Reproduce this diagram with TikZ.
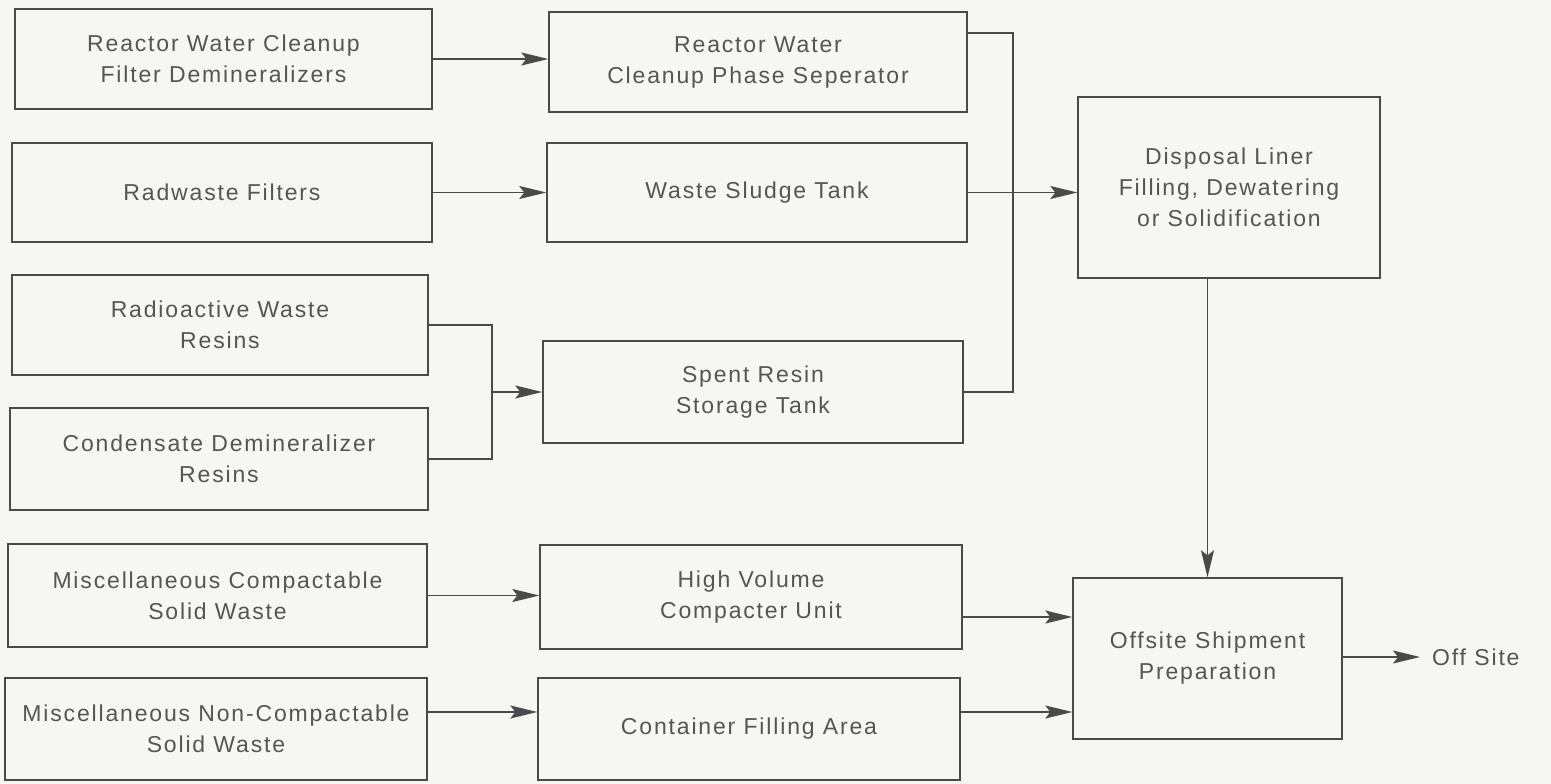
\documentclass[tikz,border=0pt]{standalone}
\usepackage{fontspec}
\setmainfont{Liberation Sans}[LetterSpace=8]
\usetikzlibrary{arrows.meta,calc}
\definecolor{paper}{HTML}{F6F6F3}
\definecolor{ink}{HTML}{4A4A4A}
\definecolor{txt}{HTML}{555555}
\begin{document}
\begin{tikzpicture}[x=1pt,y=-1pt,
  box/.style={draw=ink,line width=1.4pt,inner sep=0pt,align=center,text=txt,
    font=\fontsize{23}{31}\selectfont},
  arr/.style={draw=ink,line width=1.4pt,-{Stealth[length=27pt,width=13pt,inset=5pt]}},
  ln/.style={draw=ink,line width=1.4pt}]
\fill[paper] (0,0) rectangle (1551,784);
\useasboundingbox (0,0) rectangle (1551,784);
% left column
\node[box,minimum width=417pt,minimum height=100pt] (b1) at (223.5,59) {Reactor Water Cleanup\\Filter Demineralizers};
\node[box,minimum width=420pt,minimum height=99pt] (b2) at (222,192.5) {Radwaste Filters};
\node[box,minimum width=416pt,minimum height=100pt] (b3) at (220,325) {Radioactive Waste\\Resins};
\node[box,minimum width=418pt,minimum height=102pt] (b4) at (219,459) {Condensate Demineralizer\\Resins};
\node[box,minimum width=419pt,minimum height=103pt] (b5) at (217.5,595.5) {Miscellaneous Compactable\\Solid Waste};
\node[box,minimum width=422pt,minimum height=102pt] (b6) at (216,729) {Miscellaneous Non-Compactable\\Solid Waste};
% middle column
\node[box,minimum width=418pt,minimum height=100pt] (b7) at (758,62) {Reactor Water\\Cleanup Phase Seperator};
\node[box,minimum width=420pt,minimum height=99pt] (b8) at (757,192.5) {Waste Sludge Tank};
\node[box,minimum width=420pt,minimum height=102pt] (b9) at (753,392) {Spent Resin\\Storage Tank};
\node[box,minimum width=422pt,minimum height=104pt] (b10) at (751,597) {High Volume\\Compacter Unit};
\node[box,minimum width=422pt,minimum height=102pt] (b11) at (749,729) {Container Filling Area};
% right
\node[box,minimum width=302pt,minimum height=181pt] (b12) at (1229,187.5) {Disposal Liner\\Filling, Dewatering\\or Solidification};
\node[box,minimum width=269pt,minimum height=161pt] (b13) at (1207.5,658.5) {Offsite Shipment\\Preparation};
\node[inner sep=0pt,anchor=west,text=txt,font=\fontsize{23}{31}\selectfont] (off) at (1432,657) {Off Site};
% connectors
\coordinate (m) at (492,392);
\coordinate (j) at (1013,392);
\draw[arr] (b1.east) -- (b1.east -| b7.west);
\draw[arr] (b2.east) -- (b2.east -| b8.west);
\draw[ln] (b3.east) -| (m);
\draw[ln] (b4.east) -| (m);
\draw[arr] (m) -- (b9.west);
\draw[ln] ([yshift=29pt]b7.east) -| (j) -- (b9.east);
\draw[arr] (b8.east) -- (b8.east -| b12.west);
\draw[arr] (b12.south -| b13.north) -- (b13.north);
\draw[arr] (b5.east) -- (b5.east -| b10.west);
\draw[arr] ([yshift=17pt]b6.east) -- ([yshift=17pt]b6.east -| b11.west);
\draw[arr] ([yshift=-20pt]b10.east) coordinate (t1) -- (t1 -| b13.west);
\draw[arr] ([yshift=17pt]b11.east) coordinate (t2) -- (t2 -| b13.west);
\draw[arr] (b13.east |- off.west) -- ([xshift=-12pt]off.west);
\end{tikzpicture}
\end{document}
